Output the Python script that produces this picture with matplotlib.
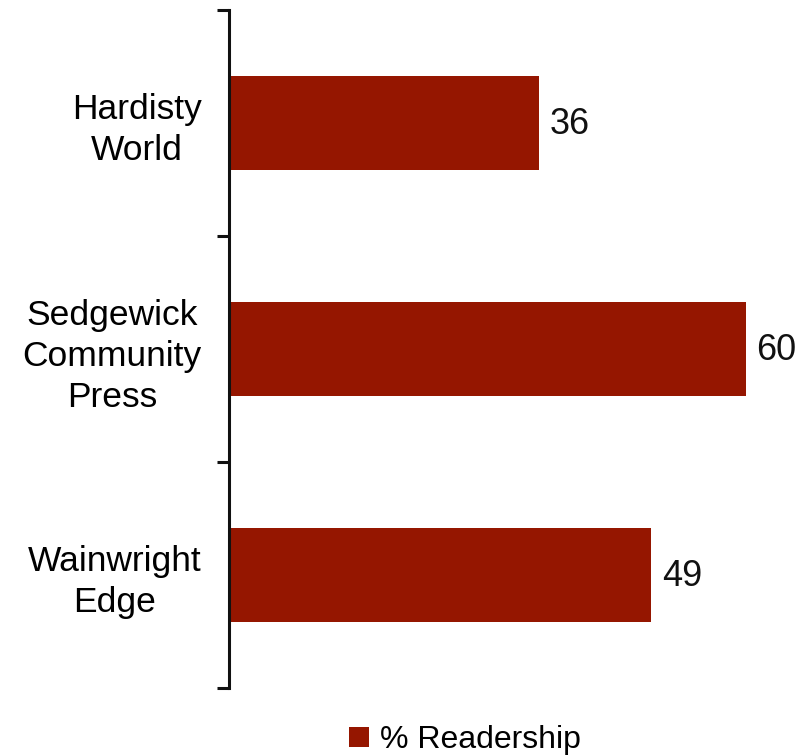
import matplotlib
matplotlib.use("Agg")
import matplotlib.pyplot as plt
from matplotlib.patches import Patch

plt.rcParams['font.family'] = ['Liberation Sans', 'DejaVu Sans']

categories = ["Hardisty\nWorld", "Sedgewick\nCommunity\nPress", "Wainwright\nEdge"]
values = [36, 60, 49]
series_name = "% Readership"
bar_color = "#951600"

W, H = 801, 755
fig = plt.figure(figsize=(W / 100, H / 100), dpi=100)
ax = fig.add_axes([229 / W, 1 - 688 / H, (W - 229) / W, 678 / H])

y = list(range(len(categories)))
bars = ax.barh(y, values, height=0.415, color=bar_color, zorder=2)

ax.set_ylim(len(categories) - 0.5, -0.5)
ax.set_xlim(0, (W - 229) / ((746 - 229) / 60))

for yi, v in zip(y, values):
    ax.annotate(f"{v}", xy=(v, yi), xytext=(7.5, -1), textcoords="offset points",
                ha="left", va="center", fontsize=26, color="#111111")

ax.set_yticks(y)
ax.set_yticklabels(categories, fontsize=25.5, ha="right", multialignment="center",
                   linespacing=1.3)
ax.tick_params(axis="y", which="major", length=0, pad=19.5)
ax.set_yticks([i - 0.5 for i in range(len(categories) + 1)], minor=True)
ax.tick_params(axis="y", which="minor", length=9, width=2.2, color="#111111", direction="out")

ax.set_xticks([])
for s in ["top", "right", "bottom"]:
    ax.spines[s].set_visible(False)
ax.spines["left"].set_linewidth(2.2)
ax.spines["left"].set_color("#111111")

handle = Patch(facecolor=bar_color, edgecolor="none")
fig.legend([handle], [series_name], loc="center", bbox_to_anchor=(465 / W, 1 - 740 / H),
           frameon=False, fontsize=23, handlelength=0.6, handleheight=0.6,
           handletextpad=0.35, borderpad=0, borderaxespad=0)

fig.savefig("out.png", dpi=100)
